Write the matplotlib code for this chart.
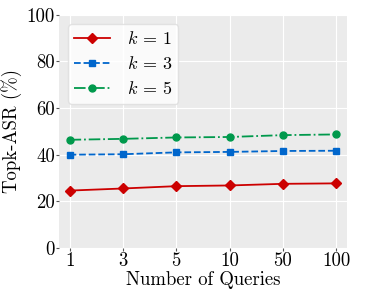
import matplotlib
matplotlib.use("Agg")
import matplotlib.pyplot as plt
import numpy as np

# data
queries = ["1", "3", "5", "10", "50", "100"]
asr_k1 = [24.6, 25.5, 26.5, 26.8, 27.5, 27.7]
asr_k3 = [40.0, 40.2, 41.0, 41.2, 41.6, 41.7]
asr_k5 = [46.4, 46.8, 47.4, 47.6, 48.4, 48.7]
labels = [r"$k\,=\,1$", r"$k\,=\,3$", r"$k\,=\,5$"]

plt.rcParams["font.family"] = "cmr10"
plt.rcParams["mathtext.fontset"] = "cm"
plt.rcParams["axes.unicode_minus"] = False

fig = plt.figure(figsize=(3.66, 2.92), dpi=100)
ax = fig.add_axes([0.161, 0.151, 0.787, 0.798])
ax.set_facecolor("#EBEBEB")
for s in ax.spines.values():
    s.set_visible(False)
ax.grid(True, color="white", linewidth=0.8)
ax.set_axisbelow(True)

x = np.arange(len(queries))
ax.plot(x, asr_k1, color="#CC0000", linestyle="-", marker="D", markersize=5, linewidth=1.3, label=labels[0])
ax.plot(x, asr_k3, color="#0066CC", linestyle="--", marker="s", markersize=5, linewidth=1.3, label=labels[1])
ax.plot(x, asr_k5, color="#00994C", linestyle="-.", marker="o", markersize=5, linewidth=1.3, label=labels[2])

ax.set_xticks(x)
ax.set_xticklabels(queries)
ax.set_xlim(-0.2, len(queries) - 0.8)
ax.set_ylim(0, 100)
ax.set_yticks([0, 20, 40, 60, 80, 100])
ax.tick_params(axis="both", labelsize=13.5, length=2, color="#555555", pad=1)
ax.set_xlabel("Number of Queries", fontsize=13.5, labelpad=1)
ax.set_ylabel("Topk-ASR (%)", fontsize=13.5, labelpad=3)

leg = ax.legend(loc="upper left", fontsize=13, frameon=True, fancybox=True,
                handlelength=2.0, handletextpad=0.9, labelspacing=0.45, borderpad=0.35)
leg.get_frame().set_facecolor("white")
leg.get_frame().set_alpha(0.8)
leg.get_frame().set_edgecolor("#DDDDDD")

fig.savefig("out.png", dpi=100)
